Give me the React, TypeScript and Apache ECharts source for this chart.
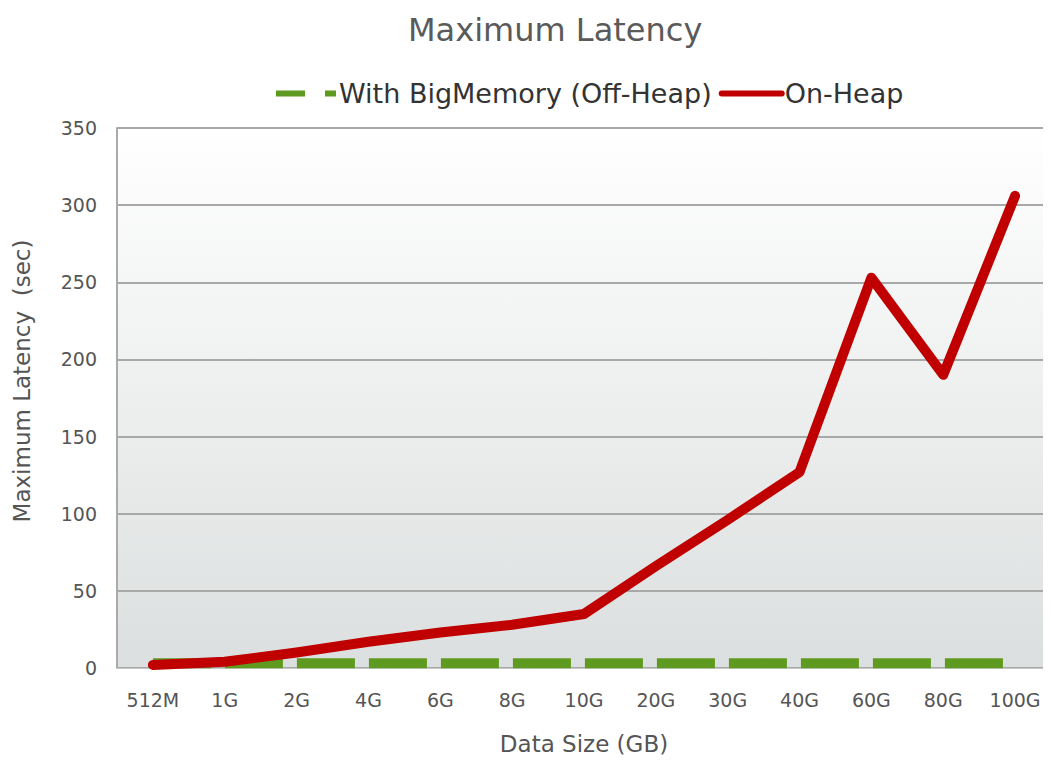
import React, { useEffect, useRef } from "react";
import * as echarts from "echarts";

const categories = ["512M", "1G", "2G", "4G", "6G", "8G", "10G", "20G", "30G", "40G", "60G", "80G", "100G"];
const offHeap = [3, 3, 3, 3, 3, 3, 3, 3, 3, 3, 3, 3, 3];
const onHeap = [2, 4, 10, 17, 23, 28, 35, 66, 96, 127, 253, 190, 306];
const yTicks = { min: 0, max: 350, interval: 50 };

export default function App() {
  const ref = useRef<HTMLDivElement>(null);
  useEffect(() => {
    const chart = echarts.init(ref.current!, null, { renderer: "svg" });
    const font = "DejaVu Sans, Verdana, sans-serif";
    chart.setOption({
      animation: false,
      textStyle: { fontFamily: font },
      title: {
        text: "Maximum Latency",
        left: 403,
        top: 9,
        textStyle: { fontSize: 32, fontWeight: "normal", color: "#5a5a5a", fontFamily: font },
      },
      legend: {
        top: 80,
        left: 273,
        padding: 0,
        itemWidth: 60,
        itemHeight: 10,
        itemGap: 7,
        textStyle: { fontSize: 27, color: "#333", fontFamily: font, padding: [0, 0, 0, -2] },
        data: [
          { name: "With BigMemory (Off-Heap)", itemStyle: { opacity: 0 }, lineStyle: { type: [29, 20], width: 6 } },
          { name: "On-Heap", itemStyle: { opacity: 0 }, lineStyle: { width: 6 } },
        ],
      },
      grid: {
        left: 117,
        right: 0,
        top: 128,
        bottom: 97,
        show: true,
        borderWidth: 0,
        backgroundColor: new echarts.graphic.LinearGradient(0, 0, 0, 1, [
          { offset: 0, color: "#ffffff" },
          { offset: 1, color: "#dcdfdf" },
        ]),
      },
      xAxis: {
        type: "category",
        data: categories,
        boundaryGap: true,
        name: "Data Size (GB)",
        nameLocation: "middle",
        nameGap: 64,
        nameTextStyle: { fontSize: 23, color: "#555", fontFamily: font },
        axisLine: { show: true, lineStyle: { color: "#c8c8c8", width: 1 } },
        axisTick: { show: false },
        axisLabel: { fontSize: 19, color: "#555", margin: 22, fontFamily: font },
      },
      yAxis: {
        type: "value",
        min: yTicks.min,
        max: yTicks.max,
        interval: yTicks.interval,
        name: "Maximum Latency  (sec)",
        nameLocation: "middle",
        nameGap: 84,
        nameTextStyle: { fontSize: 23, color: "#555", fontFamily: font, padding: [0, 0, 0, 34] },
        axisLine: { show: true, lineStyle: { color: "#aaaaaa", width: 2 } },
        axisTick: { show: false },
        axisLabel: { fontSize: 19, color: "#555", margin: 20, fontFamily: font },
        splitLine: { show: true, lineStyle: { color: "#a8a8a8", width: 2 } },
      },
      series: [
        {
          name: "With BigMemory (Off-Heap)",
          type: "line",
          data: offHeap,
          symbol: "none",
          showSymbol: false,
          z: 2,
          itemStyle: { color: "#5e9a1f" },
          lineStyle: { color: "#5e9a1f", width: 10, type: [58, 14], cap: "butt" },
        },
        {
          name: "On-Heap",
          type: "line",
          data: onHeap,
          symbol: "none",
          showSymbol: false,
          z: 3,
          itemStyle: { color: "#c00000" },
          lineStyle: { color: "#c00000", width: 10, cap: "round", join: "round" },
        },
      ],
    });
    return () => chart.dispose();
  }, []);
  return <div ref={ref} style={{ width: 1051, height: 765, marginLeft: -8, marginTop: -8 }} />;
}
